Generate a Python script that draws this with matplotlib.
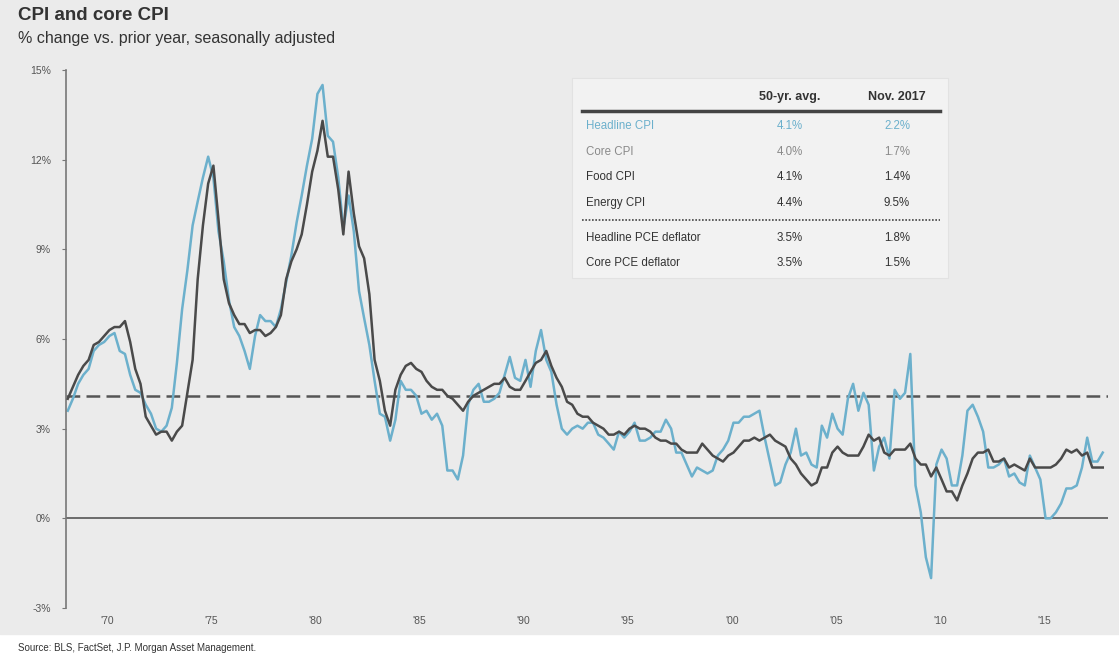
import matplotlib
matplotlib.use("Agg")
import matplotlib.pyplot as plt
import numpy as np
import pandas as pd
from datetime import datetime

plt.rcParams['font.family'] = ['Liberation Sans', 'DejaVu Sans']

# quarterly readings (Feb, May, Aug, Nov) from Feb 1968 to Nov 2017
headline_cpi = [
    3.6, 4.0, 4.5, 4.8,   5.0, 5.6, 5.8, 5.9,   6.1, 6.2, 5.6, 5.5,   4.8, 4.3, 4.2, 3.8,
    3.5, 3.0, 2.9, 3.1,   3.7, 5.2, 7.0, 8.3,   9.8, 10.6, 11.4, 12.1, 11.4, 9.6, 8.6, 7.3,
    6.4, 6.1, 5.6, 5.0,   6.1, 6.8, 6.6, 6.6,   6.4, 7.0, 7.9, 8.8,   9.9, 10.8, 11.8, 12.7,
    14.2, 14.5, 12.8, 12.6, 11.4, 9.7, 10.8, 9.6, 7.6, 6.7, 5.8, 4.6, 3.5, 3.4, 2.6, 3.3,
    4.6, 4.3, 4.3, 4.1,   3.5, 3.6, 3.3, 3.5,   3.1, 1.6, 1.6, 1.3,   2.1, 3.8, 4.3, 4.5,
    3.9, 3.9, 4.0, 4.2,   4.8, 5.4, 4.7, 4.6,   5.3, 4.4, 5.6, 6.3,   5.3, 4.9, 3.8, 3.0,
    2.8, 3.0, 3.1, 3.0,   3.2, 3.2, 2.8, 2.7,   2.5, 2.3, 2.9, 2.7,   2.9, 3.2, 2.6, 2.6,
    2.7, 2.9, 2.9, 3.3,   3.0, 2.2, 2.2, 1.8,   1.4, 1.7, 1.6, 1.5,   1.6, 2.1, 2.3, 2.6,
    3.2, 3.2, 3.4, 3.4,   3.5, 3.6, 2.7, 1.9,   1.1, 1.2, 1.8, 2.2,   3.0, 2.1, 2.2, 1.8,
    1.7, 3.1, 2.7, 3.5,   3.0, 2.8, 4.0, 4.5,   3.6, 4.2, 3.8, 1.6,   2.4, 2.7, 2.0, 4.3,
    4.0, 4.2, 5.5, 1.1,   0.2, -1.3, -2.0, 1.8, 2.3, 2.0, 1.1, 1.1,   2.1, 3.6, 3.8, 3.4,
    2.9, 1.7, 1.7, 1.8,   2.0, 1.4, 1.5, 1.2,   1.1, 2.1, 1.7, 1.3,   0.0, 0.0, 0.2, 0.5,
    1.0, 1.0, 1.1, 1.7,   2.7, 1.9, 1.9, 2.2,
]
core_cpi = [
    4.0, 4.4, 4.8, 5.1,   5.3, 5.8, 5.9, 6.1,   6.3, 6.4, 6.4, 6.6,   5.9, 5.0, 4.5, 3.4,
    3.1, 2.8, 2.9, 2.9,   2.6, 2.9, 3.1, 4.2,   5.3, 8.0, 9.8, 11.2,  11.8, 10.0, 8.0, 7.2,
    6.8, 6.5, 6.5, 6.2,   6.3, 6.3, 6.1, 6.2,   6.4, 6.8, 8.0, 8.6,   9.0, 9.5, 10.5, 11.6,
    12.3, 13.3, 12.1, 12.1, 11.0, 9.5, 11.6, 10.2, 9.1, 8.7, 7.5, 5.3, 4.6, 3.6, 3.1, 4.3,
    4.8, 5.1, 5.2, 5.0,   4.9, 4.6, 4.4, 4.3,   4.3, 4.1, 4.0, 3.8,   3.6, 3.9, 4.1, 4.2,
    4.3, 4.4, 4.5, 4.5,   4.7, 4.4, 4.3, 4.3,   4.6, 4.9, 5.2, 5.3,   5.6, 5.1, 4.7, 4.4,
    3.9, 3.8, 3.5, 3.4,   3.4, 3.2, 3.1, 3.0,   2.8, 2.8, 2.9, 2.8,   3.0, 3.1, 3.0, 3.0,
    2.9, 2.7, 2.6, 2.6,   2.5, 2.5, 2.3, 2.2,   2.2, 2.2, 2.5, 2.3,   2.1, 2.0, 1.9, 2.1,
    2.2, 2.4, 2.6, 2.6,   2.7, 2.6, 2.7, 2.8,   2.6, 2.5, 2.4, 2.0,   1.8, 1.5, 1.3, 1.1,
    1.2, 1.7, 1.7, 2.2,   2.4, 2.2, 2.1, 2.1,   2.1, 2.4, 2.8, 2.6,   2.7, 2.2, 2.1, 2.3,
    2.3, 2.3, 2.5, 2.0,   1.8, 1.8, 1.4, 1.7,   1.3, 0.9, 0.9, 0.6,   1.1, 1.5, 2.0, 2.2,
    2.2, 2.3, 1.9, 1.9,   2.0, 1.7, 1.8, 1.7,   1.6, 2.0, 1.7, 1.7,   1.7, 1.7, 1.8, 2.0,
    2.3, 2.2, 2.3, 2.1,   2.2, 1.7, 1.7, 1.7,
]
dates = pd.date_range('1968-02-01', periods=len(headline_cpi), freq='3MS')
avg_headline = 4.1

tick_years = [1970, 1975, 1980, 1985, 1990, 1995, 2000, 2005, 2010, 2015]
tick_labels = ["'70", "'75", "'80", "'85", "'90", "'95", "'00", "'05", "'10", "'15"]
y_ticks = [-3, 0, 3, 6, 9, 12, 15]

table_cols = ['50-yr. avg.', 'Nov. 2017']
table_rows = ['Headline CPI', 'Core CPI', 'Food CPI', 'Energy CPI',
              'Headline PCE deflator', 'Core PCE deflator']
table_avg = ['4.1%', '4.0%', '4.1%', '4.4%', '3.5%', '3.5%']
table_now = ['2.2%', '1.7%', '1.4%', '9.5%', '1.8%', '1.5%']

BLUE = '#6cb0cc'
DARK = '#4a4a4a'
BG = '#ebebeb'

fig = plt.figure(figsize=(11.19, 6.58), dpi=100)
W, H = 1119, 658
def fx(px): return px / W
def fy(py): return 1 - py / H

# grey panel behind the chart
fig.patches.append(plt.Rectangle((0, fy(634)), 1, 1 - fy(634), transform=fig.transFigure,
                                 color=BG, zorder=-10))

ax = fig.add_axes([fx(66), fy(608), fx(1108) - fx(66), fy(70) - fy(608)])
ax.set_facecolor('none')

ax.plot(dates, core_cpi, color=DARK, lw=1.8, zorder=3)
ax.plot(dates, headline_cpi, color=BLUE, lw=1.8, zorder=2)
ax.axhline(avg_headline, color='#555555', lw=1.8, ls=(0, (5.5, 2.5)), zorder=1)
ax.axhline(0, color='#555555', lw=1.2, zorder=1)

ax.set_xlim(datetime(1968, 1, 1), datetime(2018, 2, 1))
ax.set_ylim(-3, 15)
ax.set_yticks(y_ticks)
ax.set_yticklabels([f'{v}%' for v in y_ticks])
ax.set_xticks([datetime(y, 1, 1) for y in tick_years])
ax.set_xticklabels(tick_labels)

for s in ['top', 'right', 'bottom']:
    ax.spines[s].set_visible(False)
ax.spines['left'].set_color('#777777')
ax.spines['left'].set_linewidth(1.2)
ax.tick_params(axis='y', length=3, color='#777777', labelsize=7.5, labelcolor='#555555', pad=8)
ax.tick_params(axis='x', length=0, labelsize=7.5, labelcolor='#555555', pad=6)

fig.text(fx(18), fy(16), 'CPI and core CPI', fontsize=13.5, fontweight='bold',
         color='#333333', va='center')
fig.text(fx(18), fy(39), '% change vs. prior year, seasonally adjusted', fontsize=11.5,
         color='#333333', va='center')
fig.text(fx(18), fy(648), 'Source: BLS, FactSet, J.P. Morgan Asset Management.', fontsize=7,
         color='#333333', va='center')

# summary table
table_box = plt.Rectangle((fx(572), fy(278)), fx(948) - fx(572), fy(78) - fy(278),
                          transform=fig.transFigure, facecolor='#f2f2f2',
                          edgecolor='#e2e2e2', lw=0.8, zorder=5)
fig.add_artist(table_box)
col_x = [fx(790), fx(897)]
for cx, c in zip(col_x, table_cols):
    fig.text(cx, fy(97), c, fontsize=9, fontweight='bold', color='#333333',
             ha='center', va='center', zorder=6)
fig.add_artist(plt.Line2D([fx(582), fx(940)], [fy(111), fy(111)], color='#444444', lw=2.5,
                          transform=fig.transFigure, zorder=6))
fig.add_artist(plt.Line2D([fx(582), fx(940)], [fy(220), fy(220)], color='#444444', lw=1.2,
                          ls=(0, (1, 1)), transform=fig.transFigure, zorder=6))
row_y = [126, 152, 177, 203, 238, 263]
row_colors = [BLUE, '#8a8a8a', '#333333', '#333333', '#333333', '#333333']
for ry, name, a, n, c in zip(row_y, table_rows, table_avg, table_now, row_colors):
    fig.text(fx(586), fy(ry), name, fontsize=8.3, color=c, va='center', zorder=6)
    fig.text(col_x[0], fy(ry), a, fontsize=8.3, color=c, ha='center', va='center', zorder=6)
    fig.text(col_x[1], fy(ry), n, fontsize=8.3, color=c, ha='center', va='center', zorder=6)

fig.savefig('out.png', dpi=100, facecolor='white')
